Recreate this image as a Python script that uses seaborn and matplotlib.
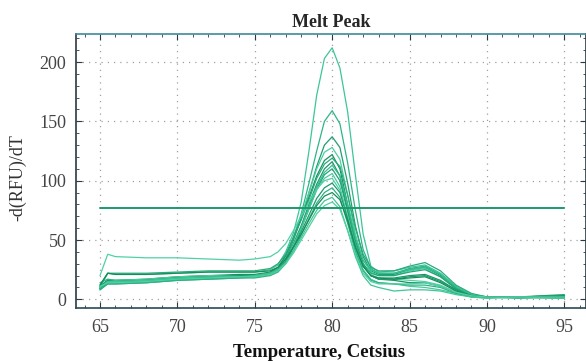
import matplotlib
matplotlib.use("Agg")
import matplotlib.pyplot as plt
from matplotlib.ticker import MultipleLocator
import seaborn as sns
import pandas as pd

temperature = [65, 65.5, 66, 68, 70, 72, 74, 75, 76, 76.5, 77, 77.5, 78, 78.5, 79, 79.5,
               80, 80.5, 81, 81.5, 82, 82.5, 83, 84, 85, 86, 87, 88, 89, 90, 92, 95]

curve_01 = [10, 22, 21, 21, 22, 23, 23, 23, 25, 29, 40, 56, 82, 125, 172, 203, 212, 195, 158, 105, 55, 28, 23, 24, 27, 29, 22, 11, 4, 2, 2, 1]
curve_02 = [14, 17, 16, 16, 18, 19, 20, 20, 22, 26, 36, 52, 72, 98, 125, 150, 159, 148, 115, 75, 42, 26, 22, 22, 26, 28, 21, 10, 4, 2, 2, 2]
curve_03 = [9, 14, 14, 15, 17, 18, 19, 19, 21, 25, 34, 50, 68, 90, 112, 130, 137, 128, 98, 62, 36, 24, 21, 21, 25, 27, 20, 9, 3, 2, 2, 3]
curve_04 = [8, 15, 15, 16, 18, 19, 20, 20, 22, 26, 36, 52, 70, 90, 110, 124, 128, 118, 88, 55, 33, 23, 20, 20, 24, 26, 19, 9, 3, 2, 1, 2]
curve_05 = [11, 16, 16, 17, 19, 20, 21, 21, 23, 27, 37, 52, 68, 86, 104, 117, 122, 110, 80, 50, 30, 20, 17, 16, 14, 14, 11, 6, 3, 2, 2, 2]
curve_06 = [12, 22, 22, 22, 23, 24, 24, 24, 26, 30, 38, 52, 67, 84, 102, 114, 119, 112, 88, 60, 38, 27, 24, 24, 28, 31, 24, 12, 5, 2, 2, 1]
curve_07 = [9, 14, 14, 15, 17, 18, 19, 20, 22, 25, 33, 47, 62, 80, 97, 110, 116, 104, 75, 46, 28, 20, 18, 18, 20, 21, 16, 8, 3, 2, 2, 3]
curve_08 = [10, 15, 14, 15, 17, 18, 19, 19, 21, 24, 31, 44, 60, 78, 95, 107, 113, 104, 80, 52, 33, 25, 22, 22, 25, 27, 21, 10, 4, 2, 2, 2]
curve_09 = [8, 13, 13, 14, 16, 17, 18, 19, 21, 24, 32, 45, 60, 76, 93, 105, 110, 100, 74, 47, 30, 22, 20, 20, 23, 25, 19, 9, 3, 2, 2, 4]
curve_10 = [10, 16, 16, 17, 19, 20, 20, 20, 22, 25, 33, 46, 60, 76, 92, 102, 106, 95, 68, 42, 25, 17, 14, 13, 11, 10, 8, 5, 2, 1, 2, 2]
curve_11 = [20, 38, 36, 35, 35, 34, 33, 34, 36, 40, 47, 58, 70, 82, 93, 100, 102, 92, 70, 45, 28, 21, 18, 17, 16, 15, 12, 6, 3, 2, 2, 1]
curve_12 = [11, 16, 15, 16, 18, 19, 20, 20, 22, 25, 32, 44, 57, 71, 85, 94, 98, 90, 68, 44, 28, 20, 17, 17, 19, 20, 15, 8, 3, 2, 2, 3]
curve_13 = [9, 13, 13, 14, 16, 17, 18, 18, 20, 23, 30, 41, 54, 68, 81, 90, 94, 86, 64, 40, 24, 16, 14, 13, 12, 12, 10, 5, 2, 2, 1, 2]
curve_14 = [12, 22, 21, 21, 22, 23, 23, 23, 24, 27, 34, 44, 55, 67, 79, 87, 90, 84, 66, 44, 28, 20, 18, 17, 18, 19, 14, 7, 3, 2, 2, 2]
curve_15 = [10, 15, 15, 16, 18, 19, 19, 20, 22, 25, 31, 41, 52, 64, 75, 83, 86, 78, 58, 36, 20, 12, 10, 7, 8, 8, 7, 4, 2, 1, 2, 1]
curve_16 = [11, 14, 14, 15, 17, 18, 19, 19, 21, 24, 30, 39, 50, 61, 72, 79, 82, 76, 58, 38, 22, 15, 13, 13, 13, 14, 11, 6, 3, 2, 2, 2]

curves = [curve_01, curve_02, curve_03, curve_04, curve_05, curve_06, curve_07, curve_08,
          curve_09, curve_10, curve_11, curve_12, curve_13, curve_14, curve_15, curve_16]

threshold = 77
threshold_x = [65, 95]

x_ticks = [65, 70, 75, 80, 85, 90, 95]
y_ticks = [0, 50, 100, 150, 200]

rows = []
for i, c in enumerate(curves):
    for t, v in zip(temperature, c):
        rows.append({"well": f"w{i+1:02d}", "T": t, "v": v})
df = pd.DataFrame(rows)

sns.set_style("white")
plt.rcParams["font.family"] = ["Liberation Serif", "DejaVu Serif"]

greens = ["#3cc59a", "#2db587", "#1f9e6e", "#49cfa3", "#18925f", "#2aa97b",
          "#1b9868", "#35bd90", "#22a474", "#45c99d", "#4fd1a6", "#1d9a6b",
          "#2fb283", "#168c5a", "#40c597", "#52cfa4"]

fig = plt.figure(figsize=(5.86, 3.61), dpi=100)
ax = fig.add_axes([0.1297, 0.1468, 0.8703, 0.759])

sns.lineplot(data=df, x="T", y="v", hue="well", palette=greens, legend=False,
             linewidth=0.9, ax=ax, estimator=None)
sns.lineplot(x=threshold_x, y=[threshold, threshold], color="#1a9a6a",
             linewidth=1.4, ax=ax)

ax.set_xlim(63.45, 96.4)
ax.set_ylim(-7.3, 223.6)
ax.set_xticks(x_ticks)
ax.set_yticks(y_ticks)
ax.xaxis.set_minor_locator(MultipleLocator(1))
ax.yaxis.set_minor_locator(MultipleLocator(10))
ax.tick_params(which="both", direction="in", top=True, right=True,
               bottom=True, left=True, colors="#2a3a44")
ax.tick_params(which="major", length=4, width=0.8, labelsize=13,
               labelcolor="#444444")
ax.tick_params(axis="x", which="major", pad=8)
ax.tick_params(axis="y", which="major", pad=7)
ax.tick_params(which="minor", length=2.5, width=0.6)
ax.grid(True, which="major", linestyle=(0, (1, 4)), color="#a0a0a0", linewidth=0.9)

for side, col in [("top", "#3d8a9c"), ("bottom", "#2a4a55"), ("left", "#2a3a44"), ("right", "#2a3a44")]:
    ax.spines[side].set_color(col)
    ax.spines[side].set_linewidth(1.2)

ax.set_title("Melt Peak", fontsize=13, fontweight="bold", pad=5)
ax.set_xlabel("Temperature, Cetsius", fontsize=13.5, fontweight="bold", color="#111111")
ax.xaxis.set_label_coords(0.476, -0.13)
ax.set_ylabel("-d(RFU)/dT", fontsize=13, color="#333333")
ax.yaxis.set_label_coords(-0.098, 0.476)

fig.savefig("out.png", dpi=100)
